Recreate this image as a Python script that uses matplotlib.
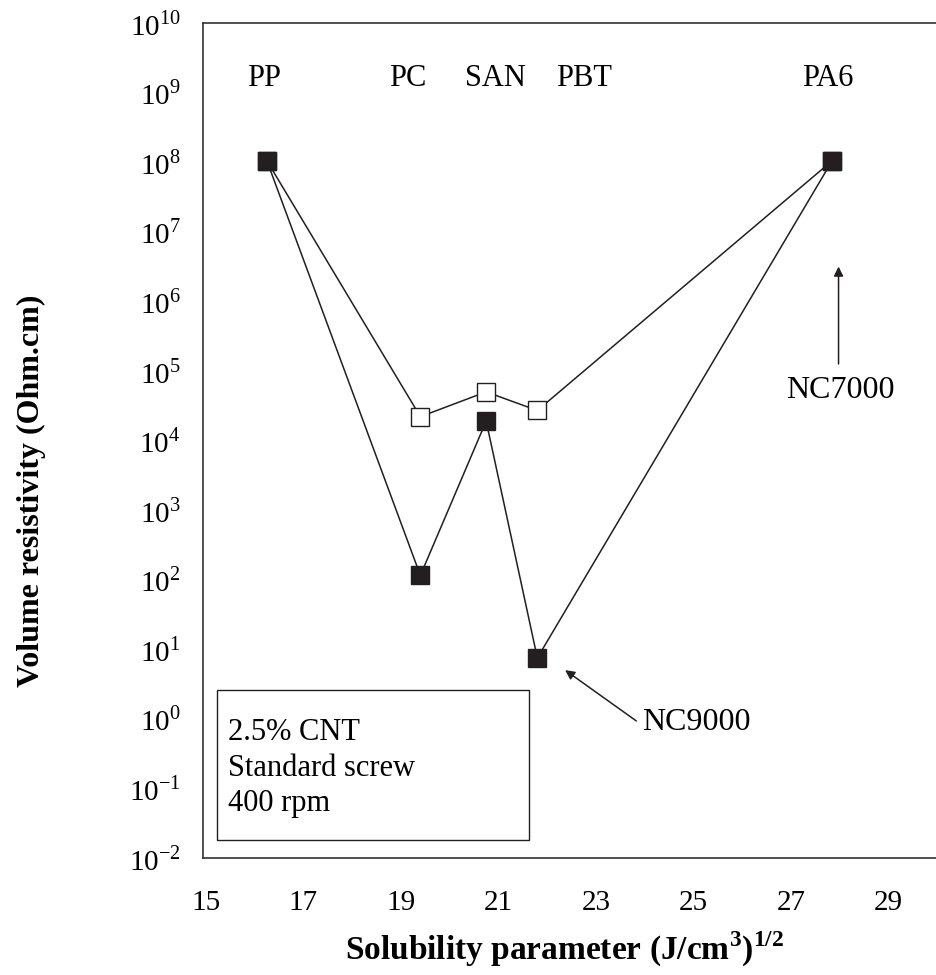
import matplotlib
matplotlib.use("Agg")
import matplotlib.pyplot as plt
import numpy as np
from matplotlib.patches import Rectangle

plt.rcParams['font.family'] = ['Liberation Serif', 'DejaVu Serif']
plt.rcParams['mathtext.fontset'] = 'custom'
plt.rcParams['mathtext.rm'] = 'Liberation Serif'
plt.rcParams['mathtext.bf'] = 'Liberation Serif:bold'

# data
polymers = ['PP', 'PC', 'SAN', 'PBT', 'PA6']
solubility = [16.25, 19.4, 20.75, 21.8, 27.85]
nc9000 = [1.05e8, 1.15e2, 1.9e4, 7.5, 1.05e8]
nc7000 = [1.05e8, 2.2e4, 5.0e4, 2.7e4, 1.05e8]
label_x = [16.2, 19.15, 20.95, 22.75, 27.75]

fig = plt.figure(figsize=(9.37, 9.75), dpi=100)
ax = fig.add_axes([203/937, 117/975, 734/937, 835/975])

ax.plot(solubility, nc9000, color='#231f20', lw=1.1, marker='s', ms=13,
        mfc='#231f20', mec='#231f20', zorder=3)
ax.plot(solubility, nc7000, color='#231f20', lw=1.1, marker='s', ms=13,
        mfc='white', mec='#231f20', mew=1.0, zorder=2)

ax.set_yscale('log')
ax.set_ylim(1e-2, 1e10)
ax.set_xlim(14.94, 30.0)
ax.set_yticks(10.0 ** np.arange(-2, 11))
ax.set_yticklabels([r'$\mathrm{10}^{\mathrm{%d}}$' % e for e in range(-2, 11)])
ax.minorticks_off()
ax.set_xticks(np.arange(15, 30, 2))
ax.tick_params(axis='both', length=0, labelsize=21)
ax.tick_params(axis='x', pad=23)
ax.tick_params(axis='y', pad=16)

for s in ['left', 'top', 'bottom']:
    ax.spines[s].set_linewidth(1.2)
    ax.spines[s].set_color('#333333')
ax.spines['right'].set_visible(False)

ax.set_xlabel(r'Solubility parameter (J/cm$^{\mathbf{3}}$)$^{\mathbf{1/2}}$',
              fontsize=24, fontweight='bold')
ax.set_ylabel('Volume resistivity (Ohm.cm)', fontsize=23, fontweight='bold')
ax.xaxis.set_label_coords((565 - 203) / 734, -(930 - 858) / 835)
ax.yaxis.set_label_coords(-(203 - 46) / 734, (858 - 491) / 835)

xt = ax.get_xaxis_transform()
for name, x in zip(polymers, label_x):
    ax.text(x, 0.934, name, transform=xt, ha='center', va='center', fontsize=22)

# NC7000 arrow
ax.annotate('', xy=(27.98, 10**6.5), xytext=(27.98, 10**5.1),
            arrowprops=dict(arrowstyle='-|>', color='#231f20', lw=1.1,
                            mutation_scale=14, shrinkA=0, shrinkB=0))
ax.text(28.02, 10**4.72, 'NC7000', ha='center', va='center', fontsize=23)

# NC9000 arrow
ax.annotate('', xy=(22.37, 10**0.70), xytext=(23.83, 10**-0.03),
            arrowprops=dict(arrowstyle='-|>', color='#231f20', lw=1.1,
                            mutation_scale=14, shrinkA=0, shrinkB=0))
ax.text(23.95, 10**-0.05, 'NC9000', ha='left', va='center', fontsize=23)

# condition box
ax.add_patch(Rectangle((0.019, 0.0216), 0.425, 0.18, transform=ax.transAxes,
                       fill=False, ec='#231f20', lw=1.0))
for txt, y in zip(['2.5% CNT', 'Standard screw', '400 rpm'], [0.150, 0.107, 0.065]):
    ax.text(0.034, y, txt, transform=ax.transAxes, ha='left', va='center',
            fontsize=22)

fig.savefig('out.png', dpi=100)
